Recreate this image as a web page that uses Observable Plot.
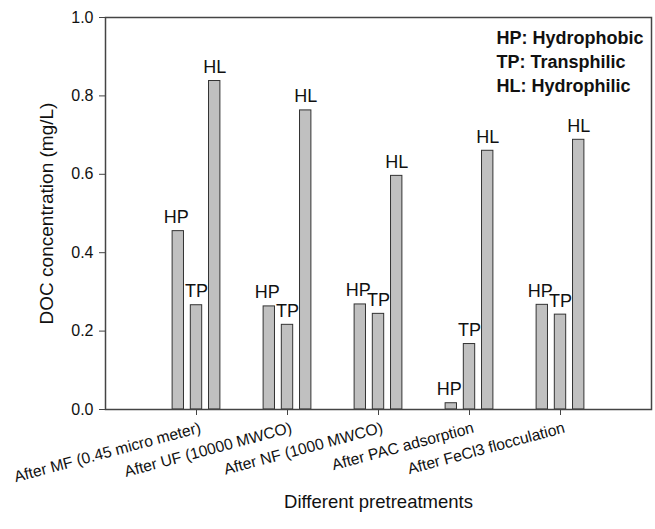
<!DOCTYPE html>
<html>
<head>
<meta charset="utf-8">
<script src="https://cdn.jsdelivr.net/npm/d3@7"></script>
<script src="https://cdn.jsdelivr.net/npm/@observablehq/plot@0.6"></script>
<style>
  html, body { margin: 0; padding: 0; background: #fff; }
</style>
</head>
<body>
<div id="chart"></div>
<script>
const categories = ["After MF (0.45 micro meter)", "After UF (10000 MWCO)", "After NF (1000 MWCO)", "After PAC adsorption", "After FeCl3 flocculation"];
const fractions = ["HP", "TP", "HL"];
const hpValues = [0.455, 0.263, 0.268, 0.016, 0.267];
const tpValues = [0.266, 0.216, 0.244, 0.167, 0.242];
const hlValues = [0.838, 0.763, 0.596, 0.660, 0.688];
const yTicks = [0, 0.2, 0.4, 0.6, 0.8, 1.0];
const legendLines = ["HP: Hydrophobic", "TP: Transphilic", "HL: Hydrophilic"];
const yTitle = "DOC concentration (mg/L)";
const xTitle = "Different pretreatments";

const seriesValues = [hpValues, tpValues, hlValues];
const rows = [];
categories.forEach((c, i) => {
  fractions.forEach((f, j) => {
    rows.push({category: c, i, fraction: f, j, value: seriesValues[j][i]});
  });
});
const xTicks = categories.map((c, i) => i);
const spread = 0.2, half = 0.0625;
const pos = d => d.i + (d.j - 1) * spread;
const labelOpts = {x: pos, y: "value", text: "fraction", dy: -8, fontSize: 18, fill: "#111", lineAnchor: "bottom"};

const chart = Plot.plot({
  width: 655,
  height: 529,
  marginLeft: 105,
  marginRight: 4,
  marginTop: 17,
  marginBottom: 120,
  x: {domain: [-1, 5]},
  y: {domain: [0, 1]},
  style: {fontFamily: "'Liberation Sans', Arial, sans-serif", fontSize: "15px", color: "#111", background: "#fff"},
  marks: [
    Plot.rect(rows, {x1: d => pos(d) - half, x2: d => pos(d) + half, y1: 0, y2: "value", fill: "#c0c0c0", stroke: "#333", strokeWidth: 1}),
    Plot.text(rows.filter(d => d.j === 0), {...labelOpts, dx: -2}),
    Plot.text(rows.filter(d => d.j !== 0), labelOpts),
    Plot.frame({stroke: "#444", strokeWidth: 1.5}),
    Plot.axisY({ticks: yTicks, tickFormat: d3.format(".1f"), tickSize: 6, tickPadding: 6, fontSize: 16, label: null, stroke: "#444"}),
    Plot.axisX({ticks: xTicks, tickFormat: () => "", tickSize: 6, label: null, stroke: "#444"}),
    Plot.axisX({ticks: xTicks, tickFormat: i => categories[i], tickRotate: -15, tickSize: 0, tickPadding: 18, dx: 4, fontSize: 15.7, label: null}),
    Plot.text([yTitle], {frameAnchor: "left", text: d => d, textAnchor: "middle", rotate: -90, dx: -59, fontSize: 19, fill: "#111"}),
    Plot.text([xTitle], {frameAnchor: "bottom", text: d => d, dy: 98, fontSize: 18.5, fill: "#111"}),
    Plot.text([legendLines.join("\n")], {frameAnchor: "top-right", text: d => d, textAnchor: "start", dx: -155, dy: 9, fontSize: 18, fontWeight: "bold", lineHeight: 1.35, fill: "#111"})
  ]
});
document.getElementById("chart").append(chart);
</script>
</body>
</html>
